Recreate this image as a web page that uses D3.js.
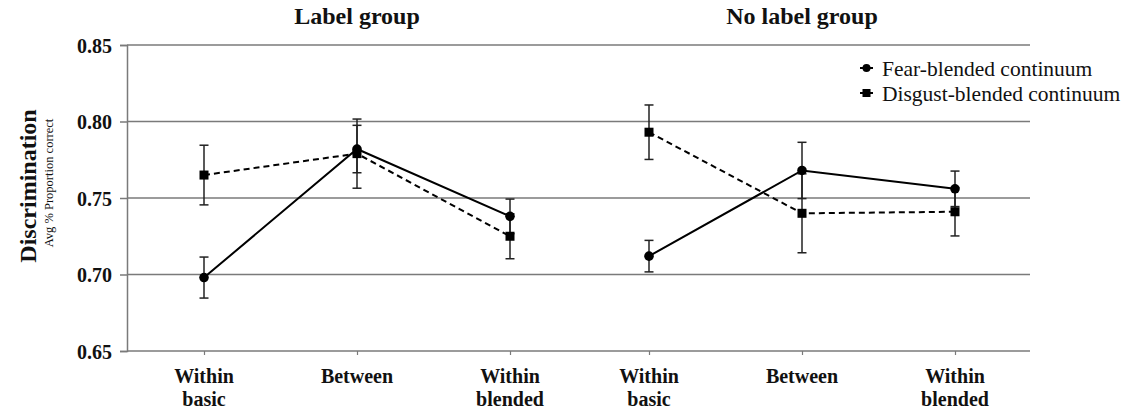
<!DOCTYPE html>
<html>
<head>
<meta charset="utf-8">
<script src="https://cdn.jsdelivr.net/npm/d3@7"></script>
<style>
  html, body { margin: 0; padding: 0; background: #fff; }
  svg { display: block; }
  text { font-family: "Liberation Serif", "Times New Roman", serif; fill: #111; }
</style>
</head>
<body>
<svg id="chart" width="1127" height="411"></svg>
<script>
// ---- data ----
const categories = ["Within basic", "Between", "Within blended"];
const categoryLines = [["Within", "basic"], ["Between"], ["Within", "blended"]];
const groups = ["Label group", "No label group"];
const seriesNames = ["Fear-blended continuum", "Disgust-blended continuum"];

const fearLabel = [0.698, 0.782, 0.738];
const fearLabelErr = [0.0134, 0.0155, 0.0113];
const disgustLabel = [0.765, 0.779, 0.725];
const disgustLabelErr = [0.0195, 0.0226, 0.0147];

const fearNoLabel = [0.712, 0.768, 0.756];
const fearNoLabelErr = [0.0103, 0.0184, 0.0116];
const disgustNoLabel = [0.793, 0.740, 0.741];
const disgustNoLabelErr = [0.0178, 0.0258, 0.0158];

const yTicks = [0.65, 0.70, 0.75, 0.80, 0.85];

// ---- layout ----
const FONT = "Liberation Serif, Times New Roman, serif";
const svg = d3.select("#chart");
const plotLeft = 127, plotRight = 1030;
const y = d3.scaleLinear().domain([0.65, 0.85]).range([351, 45]);
const xGroups = [
  d3.scalePoint().domain(categories).range([204, 510]),
  d3.scalePoint().domain(categories).range([649, 955])
];

// gridlines
svg.append("g").selectAll("line").data(yTicks).join("line")
  .attr("x1", plotLeft).attr("x2", plotRight)
  .attr("y1", d => y(d)).attr("y2", d => y(d))
  .attr("stroke", "#7a7a7a").attr("stroke-width", 1.5);

// y axis
const yAxis = d3.axisLeft(y).tickValues(yTicks).tickFormat(d3.format(".2f")).tickSize(7).tickPadding(8);
const gy = svg.append("g").attr("transform", `translate(${plotLeft},0)`).call(yAxis)
  .attr("font-family", FONT);
gy.select(".domain").attr("stroke", "#7a7a7a").attr("stroke-width", 1.5);
gy.selectAll(".tick line").attr("stroke", "#7a7a7a").attr("stroke-width", 1.5);
gy.selectAll(".tick text")
  .attr("font-family", FONT)
  .attr("font-weight", "bold").attr("font-size", 20).attr("fill", "#111")
  .attr("dy", "0.35em");

// x axes (ticks only)
xGroups.forEach(xs => {
  const ax = d3.axisBottom(xs).tickSize(4).tickFormat("");
  const g = svg.append("g").attr("transform", `translate(0,${y(0.65)})`).call(ax);
  g.select(".domain").remove();
  g.selectAll(".tick line").attr("stroke", "#7a7a7a").attr("stroke-width", 1.2);
  categories.forEach((c, i) => {
    const t = svg.append("text")
      .attr("text-anchor", "middle").attr("font-family", FONT)
      .attr("font-weight", "bold").attr("font-size", 20);
    categoryLines[i].forEach((ln, j) => {
      t.append("tspan").attr("x", xs(c)).attr("y", 383 + j * 23).text(ln);
    });
  });
});

// group titles
groups.forEach((gname, gi) => {
  svg.append("text")
    .attr("x", xGroups[gi]("Between")).attr("y", 24)
    .attr("text-anchor", "middle").attr("font-family", FONT)
    .attr("font-weight", "bold").attr("font-size", 24)
    .text(gname);
});

// y titles
svg.append("text")
  .attr("transform", `translate(36,186) rotate(-90)`)
  .attr("text-anchor", "middle").attr("font-family", FONT)
  .attr("font-weight", "bold").attr("font-size", 24)
  .text("Discrimination");
svg.append("text")
  .attr("transform", `translate(53,183) rotate(-90)`)
  .attr("text-anchor", "middle").attr("font-family", FONT).attr("font-size", 12.5)
  .text("Avg % Proportion correct");

// series
const panels = [
  { fear: fearLabel, fearErr: fearLabelErr, disgust: disgustLabel, disgustErr: disgustLabelErr },
  { fear: fearNoLabel, fearErr: fearNoLabelErr, disgust: disgustNoLabel, disgustErr: disgustNoLabelErr }
];

panels.forEach((p, gi) => {
  const xs = xGroups[gi];
  const mk = (vals, errs) => categories.map((c, i) => ({ c, v: vals[i], e: errs[i] }));
  const fearD = mk(p.fear, p.fearErr);
  const disD = mk(p.disgust, p.disgustErr);
  const line = d3.line().x(d => xs(d.c)).y(d => y(d.v));

  svg.append("path").datum(disD).attr("d", line)
    .attr("fill", "none").attr("stroke", "#000").attr("stroke-width", 2)
    .attr("stroke-dasharray", "6,4");
  svg.append("path").datum(fearD).attr("d", line)
    .attr("fill", "none").attr("stroke", "#000").attr("stroke-width", 2);

  [fearD, disD].forEach(data => {
    const g = svg.append("g");
    g.selectAll("line.v").data(data).join("line")
      .attr("x1", d => xs(d.c)).attr("x2", d => xs(d.c))
      .attr("y1", d => y(d.v - d.e)).attr("y2", d => y(d.v + d.e))
      .attr("stroke", "#222").attr("stroke-width", 1.5);
    [-1, 1].forEach(s => {
      g.selectAll(null).data(data).join("line")
        .attr("x1", d => xs(d.c) - 4.5).attr("x2", d => xs(d.c) + 4.5)
        .attr("y1", d => y(d.v + s * d.e)).attr("y2", d => y(d.v + s * d.e))
        .attr("stroke", "#222").attr("stroke-width", 1.5);
    });
  });

  svg.append("g").selectAll("rect").data(disD).join("rect")
    .attr("x", d => xs(d.c) - 4.5).attr("y", d => y(d.v) - 4.5)
    .attr("width", 9).attr("height", 9).attr("fill", "#000");
  svg.append("g").selectAll("circle").data(fearD).join("circle")
    .attr("cx", d => xs(d.c)).attr("cy", d => y(d.v)).attr("r", 4.8).attr("fill", "#000");
});

// legend
const legendRows = [68, 93];
seriesNames.forEach((name, i) => {
  const ly = legendRows[i];
  svg.append("line").attr("x1", 860).attr("x2", 873).attr("y1", ly).attr("y2", ly)
    .attr("stroke", "#000").attr("stroke-width", 2);
  if (i === 0) {
    svg.append("circle").attr("cx", 866.5).attr("cy", ly).attr("r", 4).attr("fill", "#000");
  } else {
    svg.append("rect").attr("x", 862.5).attr("y", ly - 4).attr("width", 8).attr("height", 8).attr("fill", "#000");
  }
  svg.append("text").attr("x", 882).attr("y", ly).attr("dy", "0.35em")
    .attr("font-family", FONT).attr("font-size", 21.5).text(name);
});
</script>
</body>
</html>
